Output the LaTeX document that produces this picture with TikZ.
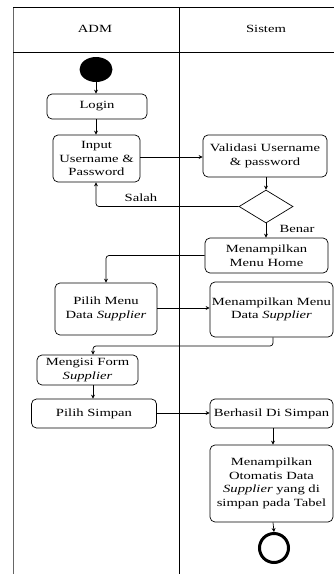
\documentclass[tikz,border=0pt]{standalone}
\usepackage{fontspec}
\setmainfont{Liberation Serif}[FakeStretch=1.33]
\usetikzlibrary{shapes.geometric,arrows.meta}
\begin{document}
\begin{tikzpicture}[x=1pt,y=-1pt,
  every node/.style={font=\fontsize{11}{13.5}\selectfont},
  box/.style={draw, rounded corners=5pt, align=center, inner sep=0pt, line width=0.7pt},
  conn/.style={-{Stealth[length=4pt,width=4pt]}, line width=0.7pt, rounded corners=3pt},
  lane/.style={line width=0.9pt}]
\useasboundingbox (0,0) rectangle (334,574);
% swimlanes
\draw[lane, black!60] (13,7) -- (13,574);
\draw[lane] (179,7) -- (179,574);
\draw[lane] (13,7) -- (334,7);
\draw[lane] (13,52) -- (334,52);
\node (hadm) at (95,29) {ADM};
\node (hsis) at (266,29) {Sistem};
% nodes
\node[ellipse, fill=black, minimum width=33pt, minimum height=25pt, inner sep=0pt] (start) at (96,69.5) {};
\node[box, minimum width=100pt, minimum height=25pt] (login) at (97,106.5) {Login};
\node[box, minimum width=87pt, minimum height=47pt] (input) at (96.5,158.5) {Input\\Username \&\\Password};
\node[box, minimum width=124pt, minimum height=42pt] (valid) at (265,156) {Validasi Username\\\& password};
\node[diamond, draw, line width=0.7pt, minimum width=54pt, minimum height=33pt, inner sep=0pt] (dec) at (266,206.5) {};
\node[box, minimum width=123pt, minimum height=35pt] (home) at (266.5,255.5) {Menampilkan\\Menu Home};
\node[box, minimum width=102pt, minimum height=52pt] (pmenu) at (106,309) {Pilih Menu\\Data \textit{Supplier}};
\node[box, minimum width=123pt, minimum height=55pt] (tmenu) at (271.5,309.5) {Menampilkan Menu\\Data \textit{Supplier}};
\node[box, minimum width=101pt, minimum height=30pt] (form) at (87.5,370) {Mengisi Form\\\textit{Supplier}};
\node[box, minimum width=125pt, minimum height=29pt] (simpan) at (94,413.5) {Pilih Simpan};
\node[box, minimum width=123pt, minimum height=29pt] (berhasil) at (271.5,413.5) {Berhasil Di Simpan};
\node[box, minimum width=123pt, minimum height=77pt] (otomatis) at (271.5,483.5) {Menampilkan\\Otomatis Data\\\textit{Supplier} yang di\\simpan pada Tabel};
\node[circle, draw, line width=3pt, minimum size=29pt, inner sep=0pt] (end) at (274,548) {};
% connectors
\coordinate (c1) at (96,0);
\draw[conn] (start.south) -- (start.south |- login.north);
\draw[conn] (96,0 |- login.south) -- (96,0 |- input.north);
\draw[conn] (input.east |- 0,157) -- (valid.west |- 0,157);
\draw[conn] (266,0 |- valid.south) -- (dec.north);
\draw[conn] (dec.west) -| (96,0 |- input.south);
\node (salah) at (141,198) {Salah};
\draw[conn] (dec.south) -- (dec.south |- home.north);
\node[anchor=west] (benar) at (276,229) {Benar};
\draw[conn] (home.west) -| (106,0 |- pmenu.north);
\draw[conn] (pmenu.east |- 0,308) -- (tmenu.west |- 0,308);
\coordinate (bend) at (273,346);
\draw[conn] (273,0 |- tmenu.south) -- (bend) -| (93,0 |- form.north);
\draw[conn] (93,0 |- form.south) -- (93,0 |- simpan.north);
\draw[conn] (simpan.east |- 0,413) -- (berhasil.west |- 0,413);
\draw[conn] (273,0 |- berhasil.south) -- (273,0 |- otomatis.north);
\draw[conn] (273,0 |- otomatis.south) -- (end.north);
\end{tikzpicture}
\end{document}
